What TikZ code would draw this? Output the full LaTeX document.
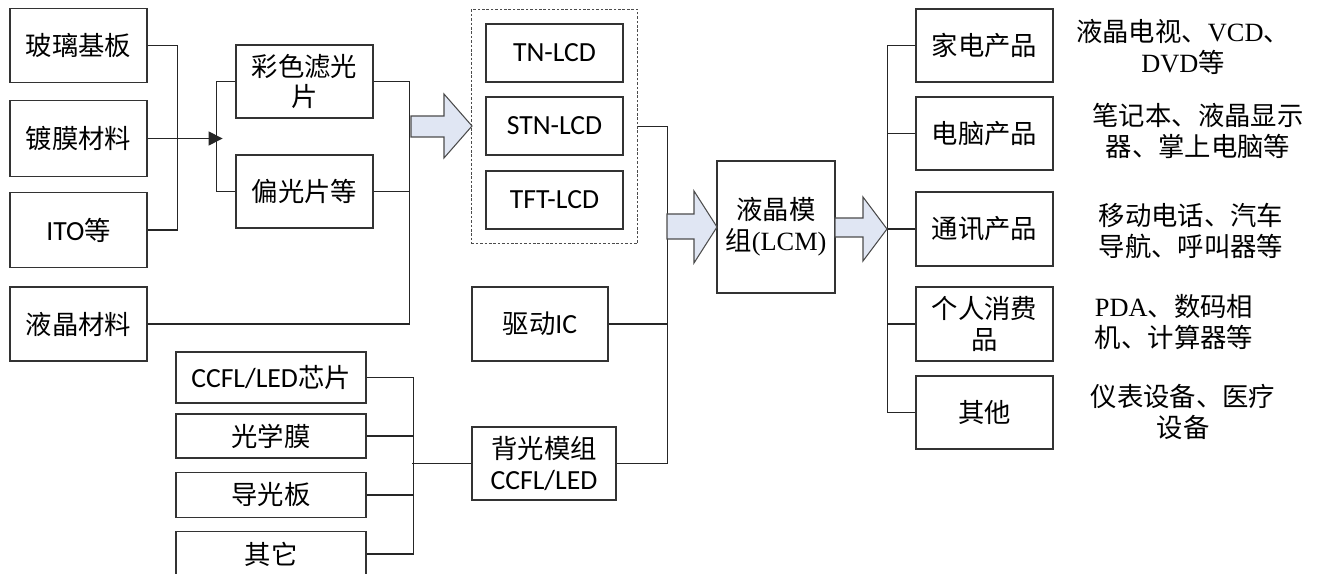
\documentclass[tikz,border=0pt]{standalone}
\usepackage{fontspec}
\setmainfont{Noto Sans CJK SC}
\newfontfamily\sanslat{Carlito}[Scale=1.05]
\newfontfamily\serlat{Liberation Serif}
\usetikzlibrary{arrows.meta,fit}
\definecolor{arrowfill}{RGB}{224,230,243}

\begin{document}
\begin{tikzpicture}[x=0.02cm,y=-0.02cm,
    every node/.style={font=\fontsize{15}{17.5}\selectfont},
    box/.style={draw=black!80,line width=0.7pt,inner sep=0pt,align=center,
      minimum width=2.74cm,minimum height=1.46cm},
    link/.style={draw=black!85,line width=0.6pt},
    bigarrow/.style={draw=black!70,line width=0.6pt,fill=arrowfill}]
    \useasboundingbox (0,0) rectangle (1322,574);

    % raw materials
    \node[box,minimum height=1.48cm] (glass) at (78.5,45.5) {玻璃基板};
    \node[box,minimum height=1.52cm] (coat) at (78.5,138.5) {镀膜材料};
    \node[box,minimum height=1.5cm] (ito) at (78.5,230) {{\sanslat ITO}等};
    \node[box,minimum height=1.48cm] (lcmat) at (78.5,324) {液晶材料};

    \node[box] (filter) at (304.5,81.5) {彩色滤光\\片};
    \node[box] (polar) at (304.5,191.5) {偏光片等};

    % panel types
    \node[box,minimum height=1.16cm] (tn) at (554.5,53) {\sanslat TN-LCD};
    \node[box,minimum height=1.16cm] (stn) at (554.5,126) {\sanslat STN-LCD};
    \node[box,minimum height=1.16cm] (tft) at (554.5,200) {\sanslat TFT-LCD};
    \node[draw=black!70,line width=0.5pt,dash pattern=on 1.5pt off 1pt,
      inner sep=0.28cm,fit=(tn)(tft)] (lcd) {};

    \node[box,minimum width=2.72cm,minimum height=1.48cm] (ic) at (540,324) {驱动{\sanslat IC}};
    \node[box,minimum width=2.88cm] (backlight) at (544,463.5) {背光模组\\{\sanslat CCFL/LED}};

    % backlight parts
    \node[box,minimum width=3.8cm,minimum height=1.02cm] (chip) at (271,377.5) {{\sanslat CCFL/LED}芯片};
    \node[box,minimum width=3.8cm,minimum height=0.88cm] (film) at (271,436) {光学膜};
    \node[box,minimum width=3.8cm,minimum height=0.9cm] (guide) at (271,495) {导光板};
    \node[box,minimum width=3.8cm,minimum height=0.9cm] (other) at (271,554) {其它};

    \node[box,minimum width=2.36cm,minimum height=2.64cm] (lcm) at (776,227) {液晶模\\组{\serlat (LCM)}};

    % applications
    \node[box] (home) at (984.5,45.5) {家电产品};
    \node[box] (pc) at (984.5,133.5) {电脑产品};
    \node[box,minimum height=1.48cm] (comm) at (984.5,229) {通讯产品};
    \node[box,minimum height=1.48cm] (consumer) at (984.5,324) {个人消费\\品};
    \node[box] (misc) at (984.5,412.5) {其他};

    \node[align=center] (homeex) at (1183,47) {液晶电视、{\serlat VCD}、\\{\serlat DVD}等};
    \node[align=center] (pcex) at (1198,131) {笔记本、液晶显示\\器、掌上电脑等};
    \node[align=center] (commex) at (1191,231) {移动电话、汽车\\导航、呼叫器等};
    \node[align=center] (consumerex) at (1174,322) {{\serlat PDA}、数码相\\机、计算器等};
    \node[align=center] (miscex) at (1183,412) {仪表设备、医疗\\设备};

    % connectors
    \draw[link] (glass.east) -- ++(30,0) |- (ito.east);
    \draw[link,-{Triangle[length=8pt,width=8pt]}] (coat.east) -- ++(75,0);
    \draw[link] (filter.west) -- ++(-19,0) |- (polar.west);
    \draw[link] (filter.east) -- ++(36,0) |- (lcmat.east);
    \draw[link] (polar.east) -- ++(36,0);
    \draw[link] (lcd.east) -- ++(29,0) |- (backlight.east);
    \draw[link] (ic.east) -- ++(59,0);
    \draw[link] (chip.east) -- ++(47,0) |- (other.east);
    \draw[link] (film.east) -- ++(47,0);
    \draw[link] (guide.east) -- ++(47,0);
    \draw[link] (backlight.west) -- ++(-59,0);
    \draw[link] (home.west) -- ++(-28,0) |- (misc.west);
    \draw[link] (pc.west) -- ++(-28,0);
    \draw[link] (comm.west) -- ++(-28,0);
    \draw[link] (consumer.west) -- ++(-28,0);

    % block arrows
    \draw[bigarrow] (411,116) -- (444,116) -- (444,94) -- (472,126) -- (444,158)
      -- (444,137) -- (411,137) -- cycle;
    \draw[bigarrow] (667,214) -- (694,214) -- (694,191) -- (717,227) -- (694,263)
      -- (694,239) -- (667,239) -- cycle;
    \draw[bigarrow] (835,218) -- (863,218) -- (863,197) -- (887,229) -- (863,261)
      -- (863,237) -- (835,237) -- cycle;
  \end{tikzpicture}
\end{document}
